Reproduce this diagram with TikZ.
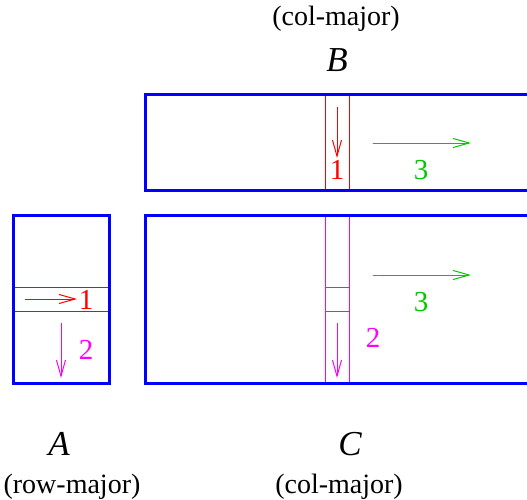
\documentclass[tikz,border=0pt]{standalone}
\usepackage{fontspec}
\setmainfont{Liberation Serif}
\usetikzlibrary{arrows.meta}
\definecolor{mblue}{RGB}{0,0,255}
\definecolor{mred}{RGB}{255,0,0}
\definecolor{mmag}{RGB}{255,0,255}
\definecolor{mgreen}{RGB}{0,200,0}
\begin{document}
\begin{tikzpicture}[x=1pt,y=-1pt,
  matbox/.style={draw=mblue,line width=3pt},
  flow/.style={line width=1pt,-{Straight Barb[length=16pt,width=9pt,line width=1pt]}},
  digit/.style={font=\fontsize{29}{29}\selectfont,inner sep=0pt},
  caption/.style={font=\fontsize{28}{28}\selectfont,inner sep=0pt,anchor=base},
  mname/.style={font=\fontsize{35}{35}\selectfont\itshape,inner sep=0pt,anchor=base}]
\useasboundingbox (0,0) rectangle (527,500);

% thin strips bounding the highlighted row / column (filled 1pt bands)
% B column
\fill[mred] (324.5,95) rectangle (325.7,190);
\fill[mred] (348.5,95) rectangle (349.7,190);
% C column and its marked element
\fill[mmag] (324.5,215) rectangle (325.7,383);
\fill[mmag] (348.5,215) rectangle (349.7,383);
\fill[mmag] (325,286.5) rectangle (349,287.7);
\fill[mmag] (325,310.5) rectangle (349,311.7);
% A row
\fill[mred] (13,286.5) rectangle (109,287.7);
\fill[mred] (13,310.5) rectangle (109,311.7);

\begin{scope}
\clip (0,0) rectangle (527,500);
\coordinate (Bnw) at (145,95);  \coordinate (Bse) at (545,190);
\coordinate (Cnw) at (145,215); \coordinate (Cse) at (545,383);
\draw[matbox] (Bnw) rectangle (Bse);
\draw[matbox] (Cnw) rectangle (Cse);
\end{scope}
\coordinate (Anw) at (13,215);  \coordinate (Ase) at (109,383);
\draw[matbox] (Anw) rectangle (Ase);

% B sweeps
\coordinate (b1s) at (337,107); \coordinate (b1e) at (337,158);
\draw[mred,flow] (b1s) -- (b1e);
\node[digit,text=mred] (b1) at (337,170) {1};
\coordinate (b3s) at (373,143); \coordinate (b3e) at (471,143);
\draw[mgreen,flow] (b3s) -- (b3e);
\node[digit,text=mgreen] (b3) at (421,170) {3};

% C sweeps
\coordinate (c2s) at (337,323); \coordinate (c2e) at (337,378);
\draw[mmag,flow] (c2s) -- (c2e);
\node[digit,text=mmag] (c2) at (373,338) {2};
\coordinate (c3s) at (373,275); \coordinate (c3e) at (471,275);
\draw[mgreen,flow] (c3s) -- (c3e);
\node[digit,text=mgreen] (c3) at (421,302) {3};

% A sweeps
\coordinate (a1s) at (25,299); \coordinate (a1e) at (77,299);
\draw[mred,flow] (a1s) -- (a1e);
\node[digit,text=mred] (a1) at (86,300) {1};
\coordinate (a2s) at (61,323); \coordinate (a2e) at (61,378);
\draw[mmag,flow] (a2s) -- (a2e);
\node[digit,text=mmag] (a2) at (86,350) {2};

% names and storage orders
\node[caption] (Bord) at (336,26) {(col-major)};
\node[mname] (Bname) at (337,72) {B};
\node[mname] (Aname) at (59,455) {A};
\node[caption] (Aord) at (72,493) {(row-major)};
\node[mname] (Cname) at (350,455) {C};
\node[caption] (Cord) at (339,493) {(col-major)};
\end{tikzpicture}
\end{document}
